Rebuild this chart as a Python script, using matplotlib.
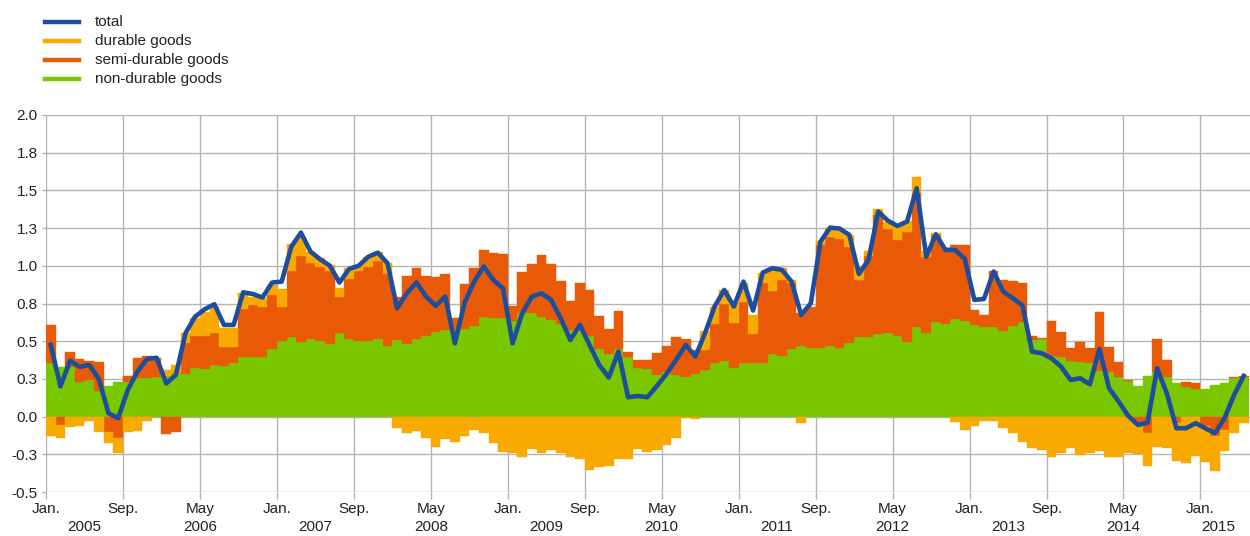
import numpy as np
import matplotlib
matplotlib.use("Agg")
import matplotlib.pyplot as plt
from matplotlib.lines import Line2D

plt.rcParams["font.family"] = ["Liberation Sans", "DejaVu Sans"]

# monthly contributions, Jan. 2005 - May 2015
nondurable = [0.354, 0.33, 0.33, 0.232, 0.243, 0.17, 0.2, 0.232, 0.232, 0.254,
              0.259, 0.265, 0.27, 0.298, 0.283, 0.325, 0.318, 0.343, 0.338, 0.354,
              0.398, 0.398, 0.398, 0.447, 0.504, 0.53, 0.497, 0.515, 0.504, 0.482,
              0.557, 0.513, 0.504, 0.504, 0.515, 0.47, 0.508, 0.482, 0.515, 0.535,
              0.559, 0.575, 0.575, 0.58, 0.601, 0.663, 0.656, 0.656, 0.637, 0.685,
              0.685, 0.659, 0.641, 0.615, 0.575, 0.575, 0.535, 0.449, 0.416, 0.447,
              0.393, 0.325, 0.314, 0.276, 0.298, 0.276, 0.265, 0.283, 0.309, 0.354,
              0.369, 0.325, 0.354, 0.354, 0.354, 0.416, 0.402, 0.449, 0.469, 0.453,
              0.458, 0.469, 0.458, 0.486, 0.526, 0.53, 0.546, 0.553, 0.535, 0.497,
              0.592, 0.553, 0.63, 0.615, 0.648, 0.634, 0.608, 0.597, 0.597, 0.57,
              0.601, 0.63, 0.508, 0.513, 0.402, 0.393, 0.371, 0.36, 0.354, 0.305,
              0.298, 0.261, 0.239, 0.203, 0.27, 0.298, 0.265, 0.221, 0.195, 0.181,
              0.181, 0.21, 0.225, 0.254, 0.261]

semidurable = [0.254, -0.055, 0.097, 0.15, 0.126, 0.19, -0.1, -0.14, 0.038, 0.136,
               0.141, 0.125, -0.117, -0.1, 0.203, 0.212, 0.219, 0.214, 0.126, 0.11,
               0.316, 0.342, 0.327, 0.36, 0.226, 0.438, 0.571, 0.506, 0.491, 0.486,
               0.239, 0.398, 0.462, 0.491, 0.517, 0.474, 0.288, 0.453, 0.469, 0.4,
               0.369, 0.371, 0.077, 0.3, 0.383, 0.442, 0.432, 0.423, 0.097, 0.277,
               0.327, 0.413, 0.371, 0.285, 0.192, 0.314, 0.305, 0.219, 0.163, 0.253,
               0.034, 0.051, 0.062, 0.144, 0.171, 0.25, 0.25, 0.159, 0.133, 0.261,
               0.378, 0.298, 0.409, 0.194, 0.53, 0.42, 0.504, 0.435, 0.221, 0.276,
               0.68, 0.725, 0.718, 0.641, 0.38, 0.535, 0.791, 0.689, 0.637, 0.73,
               0.893, 0.504, 0.575, 0.501, 0.49, 0.504, 0.099, 0.077, 0.369, 0.336,
               0.299, 0.259, 0.027, 0.006, 0.235, 0.168, 0.087, 0.135, 0.104, 0.391,
               0.166, 0.104, 0.004, -0.05, -0.11, 0.217, 0.111, -0.04, 0.037, 0.04,
               -0.062, -0.128, -0.088, 0.007, 0.009]

durable = [-0.126, -0.088, -0.066, -0.06, -0.027, -0.104, -0.077, -0.104, -0.1, -0.093,
           -0.029, 0.0, 0.04, 0.045, 0.067, 0.115, 0.159, 0.173, 0.122, 0.122,
           0.108, 0.056, 0.06, 0.066, 0.117, 0.177, 0.126, 0.073, 0.055, 0.038,
           0.059, 0.073, 0.03, 0.065, 0.062, 0.073, -0.077, -0.11, -0.095, -0.14,
           -0.2, -0.15, -0.17, -0.128, -0.088, -0.11, -0.177, -0.232, -0.243, -0.265,
           -0.217, -0.243, -0.221, -0.243, -0.265, -0.281, -0.354, -0.332, -0.325, -0.281,
           -0.281, -0.214, -0.236, -0.221, -0.188, -0.14, -0.011, -0.015, 0.126, 0.11,
           0.093, 0.133, 0.121, 0.126, 0.071, 0.148, 0.078, 0.022, -0.044, 0.0,
           0.027, 0.059, 0.062, 0.078, 0.095, 0.034, 0.038, 0.051, 0.099, 0.073,
           0.102, 0.043, 0.011, 0.0, -0.033, -0.088, -0.062, -0.027, -0.027, -0.073,
           -0.11, -0.166, -0.21, -0.221, -0.265, -0.239, -0.21, -0.254, -0.243, -0.228,
           -0.265, -0.265, -0.243, -0.2, -0.215, -0.2, -0.206, -0.254, -0.31, -0.26,
           -0.236, -0.23, -0.137, -0.106, -0.04]

total = [0.475, 0.2, 0.37, 0.33, 0.343, 0.248, 0.022, -0.01, 0.177, 0.298,
         0.382, 0.39, 0.22, 0.276, 0.553, 0.663, 0.712, 0.745, 0.608, 0.608,
         0.824, 0.813, 0.79, 0.889, 0.895, 1.127, 1.22, 1.094, 1.043, 1.001,
         0.889, 0.979, 1.0, 1.06, 1.087, 1.017, 0.718, 0.818, 0.89, 0.796,
         0.734, 0.796, 0.486, 0.752, 0.895, 0.995, 0.906, 0.85, 0.486, 0.685,
         0.796, 0.818, 0.774, 0.652, 0.508, 0.608, 0.475, 0.343, 0.259, 0.431,
         0.128, 0.137, 0.128, 0.203, 0.283, 0.376, 0.475, 0.398, 0.553, 0.73,
         0.84, 0.73, 0.895, 0.703, 0.955, 0.984, 0.973, 0.895, 0.674, 0.752,
         1.16, 1.253, 1.247, 1.205, 0.946, 1.039, 1.36, 1.3, 1.264, 1.293,
         1.514, 1.061, 1.209, 1.105, 1.105, 1.046, 0.774, 0.78, 0.962, 0.829,
         0.785, 0.736, 0.431, 0.42, 0.387, 0.332, 0.243, 0.254, 0.214, 0.449,
         0.188, 0.1, 0.004, -0.055, -0.04, 0.32, 0.155, -0.077, -0.077, -0.044,
         -0.077, -0.11, -0.011, 0.144, 0.27]

month_ticks = ["Jan.", "Sep.", "May"] * 5 + ["Jan."]
years = [str(y) for y in range(2005, 2016)]
ytick_vals = [-0.5, -0.25, 0.0, 0.25, 0.5, 0.75, 1.0, 1.25, 1.5, 1.75, 2.0]
ytick_labels = ["-0.5", "-0.3", "0.0", "0.3", "0.5", "0.8", "1.0", "1.3", "1.5", "1.8", "2.0"]

BLUE = "#1d4e9e"
YELLOW = "#f8aa00"
RED = "#e95a06"
GREEN = "#7ac700"
GRID = "#b4b4b4"
TEXT = "#222222"

n = len(total)
x = np.arange(n)

fig = plt.figure(figsize=(12.5, 5.36), dpi=100)
ax = fig.add_axes([46 / 1250, 44 / 536, 1204 / 1250, 377 / 536])

# stacked bars: positives and negatives stacked separately
pos = np.zeros(n)
neg = np.zeros(n)
for vals, col in [(nondurable, GREEN), (semidurable, RED), (durable, YELLOW)]:
    v = np.asarray(vals)
    bottom = np.where(v >= 0, pos, neg)
    ax.bar(x, v, bottom=bottom, width=1.0, color=col, edgecolor=col,
           linewidth=0.3, zorder=2)
    pos += np.clip(v, 0, None)
    neg += np.clip(v, None, 0)

ax.plot(x, total, color=BLUE, lw=3.3, zorder=4)

ax.set_xlim(-0.5, 124.65)
ax.set_ylim(-0.5, 2.0)

ax.set_yticks(ytick_vals)
ax.set_yticklabels(ytick_labels)
ax.set_xticks(np.arange(0, n, 8) - 0.5)
ax.set_xticklabels(month_ticks)
# year labels as a second row (minor ticks, may coincide with major ones)
ax.xaxis.remove_overlapping_locs = False
year_pos = [12 * k + 3.5 for k in range(10)] + [121.3]
ax.set_xticks(year_pos, minor=True)
ax.set_xticklabels(years, minor=True)

ax.grid(True, which="major", color=GRID, lw=1.0, zorder=0)
ax.set_axisbelow(True)
for s in ax.spines.values():
    s.set_visible(False)

ax.tick_params(axis="y", which="major", length=3, width=1.0, color=GRID,
               pad=3, labelsize=11, labelcolor=TEXT)
ax.tick_params(axis="x", which="major", length=5, width=1.0, color=GRID,
               pad=2, labelsize=11, labelcolor=TEXT)
ax.tick_params(axis="x", which="minor", length=0, pad=20, labelsize=11,
               labelcolor=TEXT)

# legend drawn in figure pixels, top-left
legend_items = [("total", BLUE), ("durable goods", YELLOW),
                ("semi-durable goods", RED), ("non-durable goods", GREEN)]
for k, (lab, col) in enumerate(legend_items):
    yp = 1 - (22 + 19 * k) / 536
    fig.add_artist(Line2D([45 / 1250, 79 / 1250], [yp, yp], color=col, lw=3.2))
    fig.text(95 / 1250, yp, lab, fontsize=11, color=TEXT, va="center", ha="left")

fig.savefig("out.png", dpi=100)
